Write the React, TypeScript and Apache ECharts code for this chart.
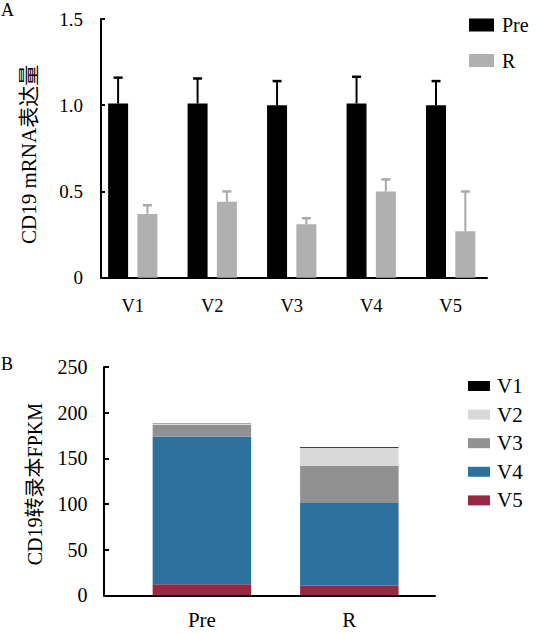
import { useEffect, useRef } from 'react';
import * as echarts from 'echarts';

// ---- Panel A data ----
const variantsA = ['V1', 'V2', 'V3', 'V4', 'V5'];
const preMean = [1.01, 1.01, 1.0, 1.01, 1.0];
const preSD = [0.15, 0.145, 0.14, 0.155, 0.14];
const rMean = [0.37, 0.44, 0.31, 0.5, 0.27];
const rSD = [0.05, 0.06, 0.035, 0.07, 0.23];
const yTicksA = [0, 0.5, 1.0, 1.5];

// ---- Panel B data ----
const groupsB = ['Pre', 'R'];
const isoV1 = [0.3, 0.8];
const isoV2 = [1.9, 19.5];
const isoV3 = [12.6, 40.8];
const isoV4 = [161.9, 90.6];
const isoV5 = [12.0, 10.5];
const yTicksB = [0, 50, 100, 150, 200, 250];

const FONT = "Liberation Serif, Noto Sans CJK SC, serif";

export default function App() {
  const ref = useRef<HTMLDivElement>(null);
  useEffect(() => {
    if (!ref.current) return;
    const chart = echarts.init(ref.current, undefined, { renderer: 'svg' });

    const barW = 20;
    const gapPx = 9.3;
    const half = (barW + gapPx) / 2;

    const errSeries = (name: string, mean: number[], sd: number[], color: string, offset: number) => ({
      type: 'custom',
      name,
      xAxisIndex: 0,
      yAxisIndex: 0,
      z: 5,
      data: variantsA.map((_, i) => [i, mean[i], mean[i] + sd[i]]),
      encode: { x: 0, y: [1, 2] },
      renderItem: (_p: any, api: any) => {
        const x = api.value(0);
        const lo = api.coord([x, api.value(1)]);
        const hi = api.coord([x, api.value(2)]);
        const cx = lo[0] + offset;
        return {
          type: 'group',
          children: [
            { type: 'line', shape: { x1: cx, y1: lo[1], x2: cx, y2: hi[1] }, style: { stroke: color, lineWidth: 2 } },
            { type: 'line', shape: { x1: cx - 4.5, y1: hi[1], x2: cx + 4.5, y2: hi[1] }, style: { stroke: color, lineWidth: 2.5 } },
          ],
        };
      },
    });

    const stackColors: Record<string, string> = {
      V1: '#000000',
      V2: '#d9d9d9',
      V3: '#919191',
      V4: '#2d729e',
      V5: '#9a2843',
    };
    const stackData: Record<string, number[]> = { V1: isoV1, V2: isoV2, V3: isoV3, V4: isoV4, V5: isoV5 };
    const stackOrder = ['V5', 'V4', 'V3', 'V2', 'V1'];

    const axisLine = { show: true, onZero: false, lineStyle: { color: '#000', width: 2 } };

    const option: any = {
      animation: false,
      textStyle: { fontFamily: FONT, color: '#000' },
      title: [
        { text: 'A', left: 1, top: 1, padding: 0, textStyle: { fontFamily: FONT, fontSize: 18, fontWeight: 'normal', color: '#000' } },
        { text: 'B', left: 1, top: 355, padding: 0, textStyle: { fontFamily: FONT, fontSize: 18, fontWeight: 'normal', color: '#000' } },
      ],
      legend: [
        {
          data: ['Pre', 'R'],
          orient: 'vertical',
          left: 469,
          top: 15,
          itemWidth: 25,
          itemHeight: 13,
          itemGap: 15.5,
          icon: 'rect',
          padding: 0,
          textStyle: { fontFamily: FONT, fontSize: 20, lineHeight: 20, color: '#000', padding: [0, 0, 0, 3] },
        },
        {
          data: ['V1', 'V2', 'V3', 'V4', 'V5'],
          orient: 'vertical',
          left: 468,
          top: 375.5,
          itemWidth: 22,
          itemHeight: 10,
          itemGap: 7.6,
          icon: 'rect',
          padding: 0,
          textStyle: { fontFamily: FONT, fontSize: 21, lineHeight: 21, color: '#000', padding: [0, 0, 0, 2] },
        },
      ],
      grid: [
        { left: 101, right: 49, top: 19, bottom: 355.3 },
        { left: 104, right: 101, top: 367, bottom: 37.7 },
      ],
      xAxis: [
        {
          type: 'value',
          gridIndex: 0,
          min: -0.3995,
          max: 4.457,
          splitLine: { show: false },
          axisLine,
          axisTick: { show: false },
          axisLabel: {
            customValues: variantsA.map((_, i) => i),
            formatter: (v: number) => variantsA[Math.round(v)] ?? '',
            fontFamily: FONT,
            fontSize: 18.5,
            color: '#000',
            margin: 19,
          },
        },
        {
          type: 'value',
          gridIndex: 1,
          min: -0.664,
          max: 1.581,
          splitLine: { show: false },
          axisLine,
          axisTick: { show: false },
          axisLabel: {
            customValues: groupsB.map((_, i) => i),
            formatter: (v: number) => groupsB[Math.round(v)] ?? '',
            fontFamily: FONT,
            fontSize: 21,
            color: '#000',
            margin: 14,
          },
        },
      ],
      yAxis: [
        {
          type: 'value',
          gridIndex: 0,
          min: yTicksA[0],
          max: yTicksA[yTicksA.length - 1],
          interval: 0.5,
          splitLine: { show: false },
          axisLine,
          axisTick: { show: true, inside: true, length: 4, lineStyle: { color: '#000', width: 2 } },
          axisLabel: {
            formatter: (v: number) => (v === 0 ? '0' : v.toFixed(1)),
            fontFamily: FONT,
            fontSize: 19,
            color: '#000',
            margin: 18,
          },
          name: 'CD19 mRNA表达量',
          nameLocation: 'middle',
          nameGap: 62,
          nameTextStyle: { fontFamily: FONT, fontSize: 21, color: '#000', padding: [0, 12, 0, 0] },
        },
        {
          type: 'value',
          gridIndex: 1,
          min: yTicksB[0],
          max: yTicksB[yTicksB.length - 1],
          interval: 50,
          splitLine: { show: false },
          axisLine,
          axisTick: { show: true, inside: true, length: 5, lineStyle: { color: '#000', width: 2 } },
          axisLabel: {
            fontFamily: FONT,
            fontSize: 20,
            color: '#000',
            margin: 16.5,
          },
          name: 'CD19转录本FPKM',
          nameLocation: 'middle',
          nameGap: 59,
          nameTextStyle: { fontFamily: FONT, fontSize: 20, color: '#000', padding: [0, 6, 0, 0] },
        },
      ],
      series: [
        {
          type: 'bar',
          name: 'Pre',
          xAxisIndex: 0,
          yAxisIndex: 0,
          barWidth: barW,
          barGap: `${(gapPx / barW) * 100}%`,
          itemStyle: { color: '#000000' },
          encode: { x: 1, y: 0 },
          data: variantsA.map((_, i) => [preMean[i], i]),
        },
        {
          type: 'bar',
          name: 'R',
          xAxisIndex: 0,
          yAxisIndex: 0,
          barWidth: barW,
          barGap: `${(gapPx / barW) * 100}%`,
          itemStyle: { color: '#b0b0b0' },
          encode: { x: 1, y: 0 },
          data: variantsA.map((_, i) => [rMean[i], i]),
        },
        errSeries('Pre SD', preMean, preSD, '#000000', -half),
        errSeries('R SD', rMean, rSD, '#a9a9a9', half),
        ...stackOrder.map((k) => ({
          type: 'bar',
          name: k,
          xAxisIndex: 1,
          yAxisIndex: 1,
          stack: 'fpkm',
          barWidth: 98.5,
          itemStyle: { color: stackColors[k] },
          encode: { x: 1, y: 0 },
          data: groupsB.map((_, i) => [stackData[k][i], i]),
        })),
      ],
    };

    chart.setOption(option);
    return () => chart.dispose();
  }, []);

  return (
    <div
      ref={ref}
      style={{ position: 'fixed', left: 0, top: 0, width: 536, height: 633, background: '#fff' }}
    />
  );
}
